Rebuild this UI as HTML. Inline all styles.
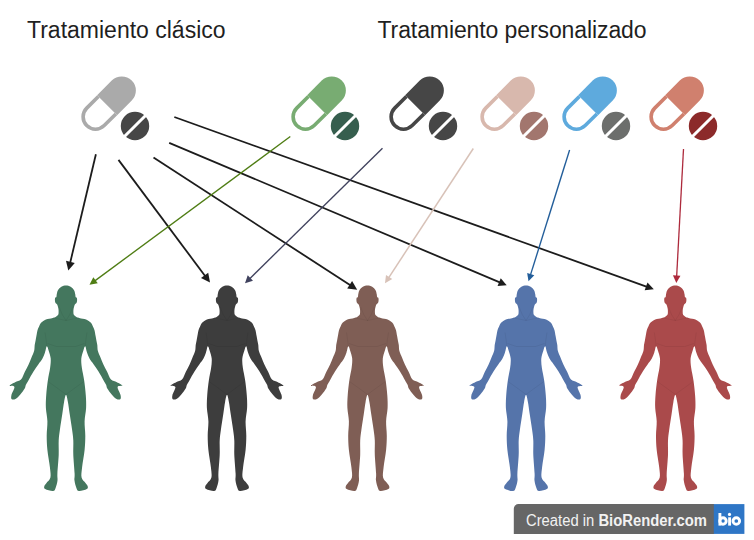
<!DOCTYPE html>
<html><head><meta charset="utf-8"><style>
html,body{margin:0;padding:0;background:#fff;}
body{width:754px;height:540px;position:relative;overflow:hidden;font-family:"Liberation Sans",sans-serif;}
svg{position:absolute;left:0;top:0;}
.t{position:absolute;color:#1f1f1f;font-size:23px;white-space:nowrap;line-height:1;}
.bt{position:absolute;color:#f2f2f2;font-size:15px;white-space:nowrap;line-height:1;}
</style></head><body>
<svg width="754" height="540" viewBox="0 0 754 540">
<defs><path id="hm" d="M 0.00 0.00 C -1.55 0.00 -3.31 0.47 -4.65 1.25 C -5.99 2.02 -7.28 3.36 -8.05 4.65 C -8.83 5.94 -9.04 7.88 -9.30 9.00 C -9.56 10.12 -9.35 10.87 -9.60 11.40 C -9.85 11.93 -10.55 11.68 -10.80 12.20 C -11.05 12.72 -11.13 13.67 -11.10 14.50 C -11.07 15.33 -10.95 16.48 -10.60 17.20 C -10.25 17.92 -9.43 18.08 -9.00 18.80 C -8.57 19.52 -8.25 20.63 -8.00 21.50 C -7.75 22.37 -7.60 23.17 -7.50 24.00 C -7.40 24.83 -7.35 25.63 -7.40 26.50 C -7.45 27.37 -7.37 28.42 -7.80 29.20 C -8.23 29.98 -9.33 30.72 -10.00 31.20 C -10.67 31.68 -10.97 31.82 -11.80 32.10 C -12.63 32.38 -13.88 32.65 -15.00 32.90 C -16.12 33.15 -17.42 33.28 -18.50 33.60 C -19.58 33.92 -20.63 34.37 -21.50 34.80 C -22.37 35.23 -23.03 35.67 -23.70 36.20 C -24.37 36.73 -25.02 37.33 -25.50 38.00 C -25.98 38.67 -26.10 39.08 -26.60 40.20 C -27.10 41.32 -28.00 42.97 -28.50 44.70 C -29.00 46.43 -29.28 48.88 -29.60 50.60 C -29.92 52.32 -30.12 53.52 -30.40 55.00 C -30.68 56.48 -31.05 57.73 -31.30 59.50 C -31.55 61.27 -31.37 63.52 -31.90 65.60 C -32.43 67.68 -33.58 69.78 -34.50 72.00 C -35.42 74.22 -36.32 76.57 -37.40 78.90 C -38.48 81.23 -39.73 83.47 -41.00 86.00 C -42.27 88.53 -43.35 92.32 -45.00 94.10 C -46.65 95.88 -49.00 95.70 -50.90 96.70 C -52.80 97.70 -56.28 99.30 -56.40 100.10 C -56.52 100.90 -51.90 99.90 -51.60 101.50 C -51.30 103.10 -54.17 107.65 -54.60 109.70 C -55.03 111.75 -54.95 113.22 -54.20 113.80 C -53.45 114.38 -51.52 114.02 -50.10 113.20 C -48.68 112.38 -47.17 110.60 -45.70 108.90 C -44.23 107.20 -42.23 104.60 -41.30 103.00 C -40.37 101.40 -40.72 100.65 -40.10 99.30 C -39.48 97.95 -38.87 97.12 -37.60 94.90 C -36.33 92.68 -34.15 88.67 -32.50 86.00 C -30.85 83.33 -29.20 81.07 -27.70 78.90 C -26.20 76.73 -24.62 74.98 -23.50 73.00 C -22.38 71.02 -21.72 69.03 -21.00 67.00 C -20.28 64.97 -19.80 61.15 -19.20 60.80 C -18.60 60.45 -18.05 62.87 -17.40 64.90 C -16.75 66.93 -15.55 70.05 -15.30 73.00 C -15.05 75.95 -15.43 79.02 -15.90 82.60 C -16.37 86.18 -17.45 89.98 -18.10 94.50 C -18.75 99.02 -19.47 105.03 -19.80 109.70 C -20.13 114.37 -20.30 118.15 -20.10 122.50 C -19.90 126.85 -18.73 131.18 -18.60 135.80 C -18.47 140.42 -19.30 145.42 -19.30 150.20 C -19.30 154.98 -19.13 159.25 -18.60 164.50 C -18.07 169.75 -16.60 177.10 -16.10 181.70 C -15.60 186.30 -15.03 189.47 -15.60 192.10 C -16.17 194.73 -18.48 196.07 -19.50 197.50 C -20.52 198.93 -21.48 199.68 -21.70 200.70 C -21.92 201.72 -22.25 202.78 -20.80 203.60 C -19.35 204.42 -14.73 205.80 -13.00 205.60 C -11.27 205.40 -11.15 204.17 -10.40 202.40 C -9.65 200.63 -8.80 197.40 -8.50 195.00 C -8.20 192.60 -8.80 192.25 -8.60 188.00 C -8.40 183.75 -7.52 175.00 -7.30 169.50 C -7.08 164.00 -7.50 159.22 -7.30 155.00 C -7.10 150.78 -6.70 148.60 -6.10 144.20 C -5.50 139.80 -4.40 133.22 -3.70 128.60 C -3.00 123.98 -2.52 119.72 -1.90 116.50 C -1.28 113.28 -0.63 109.30 0.00 109.30 C 0.63 109.30 1.28 113.28 1.90 116.50 C 2.52 119.72 3.00 123.98 3.70 128.60 C 4.40 133.22 5.50 139.80 6.10 144.20 C 6.70 148.60 7.10 150.78 7.30 155.00 C 7.50 159.22 7.08 164.00 7.30 169.50 C 7.52 175.00 8.40 183.75 8.60 188.00 C 8.80 192.25 8.20 192.60 8.50 195.00 C 8.80 197.40 9.65 200.63 10.40 202.40 C 11.15 204.17 11.27 205.40 13.00 205.60 C 14.73 205.80 19.35 204.42 20.80 203.60 C 22.25 202.78 21.92 201.72 21.70 200.70 C 21.48 199.68 20.52 198.93 19.50 197.50 C 18.48 196.07 16.17 194.73 15.60 192.10 C 15.03 189.47 15.60 186.30 16.10 181.70 C 16.60 177.10 18.07 169.75 18.60 164.50 C 19.13 159.25 19.30 154.98 19.30 150.20 C 19.30 145.42 18.47 140.42 18.60 135.80 C 18.73 131.18 19.90 126.85 20.10 122.50 C 20.30 118.15 20.13 114.37 19.80 109.70 C 19.47 105.03 18.75 99.02 18.10 94.50 C 17.45 89.98 16.37 86.18 15.90 82.60 C 15.43 79.02 15.05 75.95 15.30 73.00 C 15.55 70.05 16.75 66.93 17.40 64.90 C 18.05 62.87 18.60 60.45 19.20 60.80 C 19.80 61.15 20.28 64.97 21.00 67.00 C 21.72 69.03 22.38 71.02 23.50 73.00 C 24.62 74.98 26.20 76.73 27.70 78.90 C 29.20 81.07 30.85 83.33 32.50 86.00 C 34.15 88.67 36.33 92.68 37.60 94.90 C 38.87 97.12 39.48 97.95 40.10 99.30 C 40.72 100.65 40.37 101.40 41.30 103.00 C 42.23 104.60 44.23 107.20 45.70 108.90 C 47.17 110.60 48.68 112.38 50.10 113.20 C 51.52 114.02 53.45 114.38 54.20 113.80 C 54.95 113.22 55.03 111.75 54.60 109.70 C 54.17 107.65 51.30 103.10 51.60 101.50 C 51.90 99.90 56.52 100.90 56.40 100.10 C 56.28 99.30 52.80 97.70 50.90 96.70 C 49.00 95.70 46.65 95.88 45.00 94.10 C 43.35 92.32 42.27 88.53 41.00 86.00 C 39.73 83.47 38.48 81.23 37.40 78.90 C 36.32 76.57 35.42 74.22 34.50 72.00 C 33.58 69.78 32.43 67.68 31.90 65.60 C 31.37 63.52 31.55 61.27 31.30 59.50 C 31.05 57.73 30.68 56.48 30.40 55.00 C 30.12 53.52 29.92 52.32 29.60 50.60 C 29.28 48.88 29.00 46.43 28.50 44.70 C 28.00 42.97 27.10 41.32 26.60 40.20 C 26.10 39.08 25.98 38.67 25.50 38.00 C 25.02 37.33 24.37 36.73 23.70 36.20 C 23.03 35.67 22.37 35.23 21.50 34.80 C 20.63 34.37 19.58 33.92 18.50 33.60 C 17.42 33.28 16.12 33.15 15.00 32.90 C 13.88 32.65 12.63 32.38 11.80 32.10 C 10.97 31.82 10.67 31.68 10.00 31.20 C 9.33 30.72 8.23 29.98 7.80 29.20 C 7.37 28.42 7.45 27.37 7.40 26.50 C 7.35 25.63 7.40 24.83 7.50 24.00 C 7.60 23.17 7.75 22.37 8.00 21.50 C 8.25 20.63 8.57 19.52 9.00 18.80 C 9.43 18.08 10.25 17.92 10.60 17.20 C 10.95 16.48 11.07 15.33 11.10 14.50 C 11.13 13.67 11.05 12.72 10.80 12.20 C 10.55 11.68 9.85 11.93 9.60 11.40 C 9.35 10.87 9.56 10.12 9.30 9.00 C 9.04 7.88 8.83 5.94 8.05 4.65 C 7.28 3.36 5.99 2.02 4.65 1.25 C 3.31 0.47 1.55 0.00 0.00 0.00 Z"/><g id="hl" fill="none" stroke="#000" stroke-opacity="0.07" stroke-width="0.8"><path d="M -6.9 21.5 Q -4 30 0 35 Q 4 30 6.9 21.5"/><path d="M -13 32.5 Q -6 33.5 0 35 Q 6 33.5 13 32.5"/><path d="M -18.5 58 Q -10 62.5 0 61 Q 10 62.5 18.5 58"/><path d="M -18 96 Q -8 103 0 109 Q 8 103 18 96"/><path d="M -19.2 60.8 Q -19.6 55 -21 47"/><path d="M 19.2 60.8 Q 19.6 55 21 47"/></g></defs>
<g transform="translate(0.0 0)"><g transform="translate(109 103.3) rotate(-45)"><path d="M -2.65 -14.15 H 18 A 14.15 14.15 0 0 1 18 14.15 H -2.65 Z" fill="#aaaaaa"/><path d="M -2.65 -12.35 H -19.15 A 12.35 12.35 0 0 0 -19.15 12.35 H -2.65" fill="none" stroke="#aaaaaa" stroke-width="3.6"/></g><g transform="translate(135 126) rotate(-45)"><circle r="14.2" fill="#464646"/><rect x="-16" y="-1.5" width="32" height="3" fill="#fff"/></g></g>
<g transform="translate(210.0 0)"><g transform="translate(109 103.3) rotate(-45)"><path d="M -2.65 -14.15 H 18 A 14.15 14.15 0 0 1 18 14.15 H -2.65 Z" fill="#78ac72"/><path d="M -2.65 -12.35 H -19.15 A 12.35 12.35 0 0 0 -19.15 12.35 H -2.65" fill="none" stroke="#78ac72" stroke-width="3.6"/></g><g transform="translate(135 126) rotate(-45)"><circle r="14.2" fill="#365e4e"/><rect x="-16" y="-1.5" width="32" height="3" fill="#fff"/></g></g>
<g transform="translate(308.0 0)"><g transform="translate(109 103.3) rotate(-45)"><path d="M -2.65 -14.15 H 18 A 14.15 14.15 0 0 1 18 14.15 H -2.65 Z" fill="#464646"/><path d="M -2.65 -12.35 H -19.15 A 12.35 12.35 0 0 0 -19.15 12.35 H -2.65" fill="none" stroke="#464646" stroke-width="3.6"/></g><g transform="translate(135 126) rotate(-45)"><circle r="14.2" fill="#464646"/><rect x="-16" y="-1.5" width="32" height="3" fill="#fff"/></g></g>
<g transform="translate(399.0 0)"><g transform="translate(109 103.3) rotate(-45)"><path d="M -2.65 -14.15 H 18 A 14.15 14.15 0 0 1 18 14.15 H -2.65 Z" fill="#d8b8ad"/><path d="M -2.65 -12.35 H -19.15 A 12.35 12.35 0 0 0 -19.15 12.35 H -2.65" fill="none" stroke="#d8b8ad" stroke-width="3.6"/></g><g transform="translate(135 126) rotate(-45)"><circle r="14.2" fill="#a2766e"/><rect x="-16" y="-1.5" width="32" height="3" fill="#fff"/></g></g>
<g transform="translate(481.0 0)"><g transform="translate(109 103.3) rotate(-45)"><path d="M -2.65 -14.15 H 18 A 14.15 14.15 0 0 1 18 14.15 H -2.65 Z" fill="#5eaadd"/><path d="M -2.65 -12.35 H -19.15 A 12.35 12.35 0 0 0 -19.15 12.35 H -2.65" fill="none" stroke="#5eaadd" stroke-width="3.6"/></g><g transform="translate(135 126) rotate(-45)"><circle r="14.2" fill="#6c6e6c"/><rect x="-16" y="-1.5" width="32" height="3" fill="#fff"/></g></g>
<g transform="translate(568.0 0)"><g transform="translate(109 103.3) rotate(-45)"><path d="M -2.65 -14.15 H 18 A 14.15 14.15 0 0 1 18 14.15 H -2.65 Z" fill="#d0806e"/><path d="M -2.65 -12.35 H -19.15 A 12.35 12.35 0 0 0 -19.15 12.35 H -2.65" fill="none" stroke="#d0806e" stroke-width="3.6"/></g><g transform="translate(135 126) rotate(-45)"><circle r="14.2" fill="#8c2a2a"/><rect x="-16" y="-1.5" width="32" height="3" fill="#fff"/></g></g>
<use href="#hm" transform="translate(66.0 285.5)" fill="#44775e"/>
<use href="#hl" transform="translate(66.0 285.5)"/>
<use href="#hm" transform="translate(227.0 285.5)" fill="#3d3d3d"/>
<use href="#hl" transform="translate(227.0 285.5)"/>
<use href="#hm" transform="translate(367.5 285.5)" fill="#7f5e55"/>
<use href="#hl" transform="translate(367.5 285.5)"/>
<use href="#hm" transform="translate(526.0 285.5)" fill="#5574aa"/>
<use href="#hl" transform="translate(526.0 285.5)"/>
<use href="#hm" transform="translate(675.3 285.5)" fill="#aa4a4b"/>
<use href="#hl" transform="translate(675.3 285.5)"/>
<line x1="95.90" y1="154.30" x2="69.55" y2="265.35" stroke="#1c1c1c" stroke-width="1.8"/><polygon points="68.30,270.60 66.00,260.80 74.76,262.88" fill="#1c1c1c"/>
<line x1="118.50" y1="159.90" x2="206.77" y2="278.27" stroke="#1c1c1c" stroke-width="1.8"/><polygon points="210.00,282.60 201.01,278.08 208.23,272.70" fill="#1c1c1c"/>
<line x1="153.50" y1="157.50" x2="352.67" y2="286.76" stroke="#1c1c1c" stroke-width="1.8"/><polygon points="357.20,289.70 347.20,288.58 352.10,281.03" fill="#1c1c1c"/>
<line x1="169.20" y1="142.80" x2="502.17" y2="283.39" stroke="#1c1c1c" stroke-width="1.8"/><polygon points="506.70,285.30 497.55,285.89 500.74,278.33" fill="#1c1c1c"/>
<line x1="174.30" y1="117.00" x2="649.17" y2="287.54" stroke="#1c1c1c" stroke-width="1.8"/><polygon points="653.80,289.20 644.70,290.29 647.47,282.57" fill="#1c1c1c"/>
<line x1="290.30" y1="136.50" x2="93.12" y2="282.13" stroke="#4f7d14" stroke-width="1.35"/><polygon points="89.50,284.80 93.31,277.33 97.76,283.36" fill="#4f7d14"/>
<line x1="382.50" y1="148.20" x2="248.21" y2="280.15" stroke="#40425e" stroke-width="1.35"/><polygon points="245.00,283.30 247.72,275.37 252.98,280.72" fill="#40425e"/>
<line x1="473.30" y1="148.50" x2="387.47" y2="279.54" stroke="#d8c2b8" stroke-width="1.5"/><polygon points="385.00,283.30 385.97,274.97 392.25,279.08" fill="#d8c2b8"/>
<line x1="569.60" y1="150.00" x2="529.85" y2="276.91" stroke="#235e9a" stroke-width="1.4"/><polygon points="528.50,281.20 527.16,272.92 534.32,275.16" fill="#235e9a"/>
<line x1="683.50" y1="149.00" x2="676.54" y2="278.51" stroke="#ad2a3c" stroke-width="1.3"/><polygon points="676.30,283.00 672.96,275.31 680.45,275.71" fill="#ad2a3c"/>
<path d="M 513.8 533.9 V 508.8 A 4.7 4.7 0 0 1 518.5 504.1 H 714.2 V 533.9 Z" fill="#666666"/>
<rect x="713.8" y="504.1" width="30.6" height="29.8" fill="#2e76c6"/>
</svg>
<div class="t" id="t1" style="left:27px;top:19px;">Tratamiento clásico</div>
<div class="t" id="t2" style="left:377.5px;top:19px;letter-spacing:-0.1px;">Tratamiento personalizado</div>
<div class="bt" id="bt" style="left:526px;top:512.5px;font-size:16px;transform-origin:0 0;transform:scaleX(0.925);">Created in <b>BioRender.com</b></div>
<svg width="754" height="540" viewBox="0 0 754 540" style="position:absolute;left:0;top:0">
<g fill="none" stroke="#fff" stroke-width="2.9">
<line x1="719.9" y1="513" x2="719.9" y2="525.6"/>
<circle cx="723.0" cy="521" r="3.2"/>
<line x1="729.6" y1="517.3" x2="729.6" y2="525.6"/>
<circle cx="736.3" cy="521" r="3.3"/>
</g>
<circle cx="729.5" cy="514.4" r="1.6" fill="#fff"/>
</svg>
</body></html>
